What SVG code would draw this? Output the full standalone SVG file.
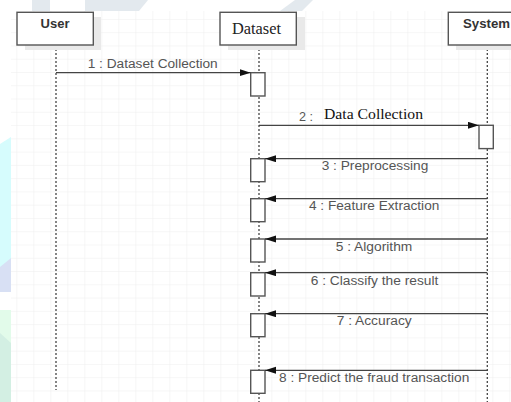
<svg xmlns="http://www.w3.org/2000/svg" width="511" height="402" viewBox="0 0 511 402">
  <style>
    .box { fill: #ffffff; stroke: #555555; stroke-width: 1.4; }
    .shadow { fill: #e9e9e9; }
    .life { stroke: #444444; stroke-width: 1.3; stroke-dasharray: 2 2; fill: none; }
    .act { fill: #ffffff; stroke: #555555; stroke-width: 1.4; }
    .msg { stroke: #444444; stroke-width: 1.3; fill: none; marker-end: url(#arrow); }
    .hdr { font-family: "Liberation Sans", Arial, sans-serif; font-weight: bold; font-size: 13px; fill: #333333; }
    .hdrs { font-family: "Liberation Serif", "Times New Roman", serif; font-size: 16px; fill: #222222; }
    .lbl { font-family: "Liberation Sans", Arial, sans-serif; font-size: 12px; fill: #555555; }
    .lbls { font-family: "Liberation Serif", "Times New Roman", serif; font-size: 15.5px; fill: #111111; }
  </style>
  <defs>
    <pattern id="grid" x="0.3" y="6.6" width="17" height="13.27" patternUnits="userSpaceOnUse">
      <path d="M17 0 V13.27 M0 13.27 H17" stroke="#eeeeee" stroke-width="1" fill="none"/>
    </pattern>
    <marker id="arrow" markerUnits="userSpaceOnUse" markerWidth="12" markerHeight="8" refX="11" refY="3.5" orient="auto">
      <path d="M0,0 L11,3.5 L0,7 z" fill="#111111"/>
    </marker>
  </defs>

  <!-- background -->
  <rect x="0" y="0" width="511" height="402" fill="#ffffff"/>
  <g id="watermark">
    <rect x="32" y="0" width="18" height="11" fill="#e3e9ee"/>
    <polygon points="85,0 148,0 139,11 85,11" fill="#e3e9ee"/>
    <polygon points="295,0 313,0 302,11 280,11" fill="#e3e9ee"/>
    <polygon points="0,144 11,137 11,292 0,292" fill="#d6fcfd"/>
    <polygon points="0,267 11,258 11,292 0,292" fill="#d8e0f4"/>
    <polygon points="0,310 11,310 11,402 0,402" fill="#e2fbea"/>
    <polygon points="0,333 11,343 11,402 0,402" fill="#d3efe3"/>
  </g>
  <rect x="11" y="11" width="500" height="391" fill="url(#grid)"/>

  <!-- lifelines -->
  <g id="lifelines">
    <line class="life" x1="56" y1="45" x2="56" y2="390"/>
    <line class="life" x1="259" y1="45" x2="259" y2="402"/>
    <line class="life" x1="487.3" y1="45" x2="487.3" y2="402"/>
  </g>

  <!-- participants -->
  <g id="user">
    <rect class="shadow" x="25" y="17" width="76" height="33"/>
    <rect class="box" x="17" y="12.3" width="76.3" height="32.7"/>
    <text class="hdr" x="55" y="27.5" text-anchor="middle">User</text>
  </g>
  <g id="dataset">
    <rect class="shadow" x="228" y="17" width="77" height="33"/>
    <rect class="box" x="220" y="12.3" width="76.3" height="32.7"/>
    <text class="hdrs" x="256.5" y="34" text-anchor="middle" textLength="49" lengthAdjust="spacingAndGlyphs">Dataset</text>
  </g>
  <g id="system">
    <rect class="shadow" x="456" y="17" width="60" height="33"/>
    <rect class="box" x="448.3" y="12.3" width="70" height="32.7"/>
    <text class="hdr" x="463" y="27.5" textLength="47" lengthAdjust="spacingAndGlyphs">System</text>
  </g>

  <!-- activations -->
  <g id="activations">
    <rect class="act" x="250.7" y="72.7" width="14.3" height="23.3"/>
    <rect class="act" x="479" y="125.3" width="14.3" height="23.3"/>
    <rect class="act" x="250.7" y="158.7" width="14.3" height="23"/>
    <rect class="act" x="250.7" y="198.7" width="14.3" height="23"/>
    <rect class="act" x="250.7" y="239" width="14.3" height="23"/>
    <rect class="act" x="250.7" y="272.7" width="14.3" height="23.3"/>
    <rect class="act" x="250.7" y="313.7" width="14.3" height="23"/>
    <rect class="act" x="250.7" y="370.3" width="14.3" height="23"/>
  </g>

  <!-- messages -->
  <g id="connectors">
    <line class="msg" x1="56" y1="72.7" x2="250.7" y2="72.7"/>
    <line class="msg" x1="259" y1="125.3" x2="479" y2="125.3"/>
    <line class="msg" x1="487.3" y1="158.7" x2="265" y2="158.7"/>
    <line class="msg" x1="487.3" y1="198.7" x2="265" y2="198.7"/>
    <line class="msg" x1="487.3" y1="239" x2="265" y2="239"/>
    <line class="msg" x1="487.3" y1="272.7" x2="265" y2="272.7"/>
    <line class="msg" x1="487.3" y1="313.7" x2="265" y2="313.7"/>
    <line class="msg" x1="487.3" y1="370.3" x2="265" y2="370.3"/>
  </g>

  <g id="labels">
    <text class="lbl" x="87.7" y="68.3" textLength="130" lengthAdjust="spacingAndGlyphs">1 : Dataset Collection</text>
    <text class="lbl" x="299" y="120.7" textLength="14" lengthAdjust="spacingAndGlyphs">2 :</text>
    <text class="lbls" x="324" y="118.7" textLength="99" lengthAdjust="spacingAndGlyphs">Data Collection</text>
    <text class="lbl" x="321.7" y="170" textLength="106.6" lengthAdjust="spacingAndGlyphs">3 : Preprocessing</text>
    <text class="lbl" x="309" y="210" textLength="130.3" lengthAdjust="spacingAndGlyphs">4 : Feature Extraction</text>
    <text class="lbl" x="335.7" y="250.7" textLength="76.6" lengthAdjust="spacingAndGlyphs">5 : Algorithm</text>
    <text class="lbl" x="310.7" y="285" textLength="127.6" lengthAdjust="spacingAndGlyphs">6 : Classify the result</text>
    <text class="lbl" x="336.7" y="325" textLength="75" lengthAdjust="spacingAndGlyphs">7 : Accuracy</text>
    <text class="lbl" x="279" y="382.3" textLength="190.3" lengthAdjust="spacingAndGlyphs">8 : Predict the fraud transaction</text>
  </g>
</svg>
